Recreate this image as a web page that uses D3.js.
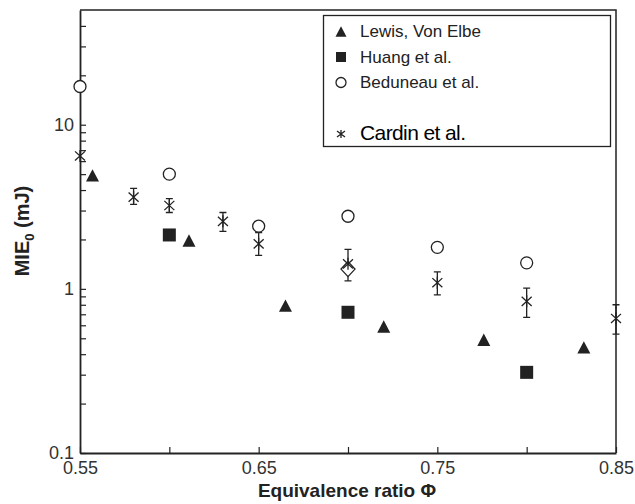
<!DOCTYPE html>
<html>
<head>
<meta charset="utf-8">
<script src="https://cdn.jsdelivr.net/npm/d3@7"></script>
<style>
  body { margin: 0; background: #fff; }
  svg { display: block; font-family: 'Liberation Sans', Arial, sans-serif; }
</style>
</head>
<body>
<div id="chart"></div>
<script>
// Data
const lewisPhi = [0.557, 0.611, 0.665, 0.72, 0.776, 0.832];
const lewisMie = [4.91, 1.97, 0.79, 0.59, 0.49, 0.44];

const huangPhi = [0.60, 0.70, 0.80];
const huangMie = [2.13, 0.72, 0.31];

const beduneauPhi = [0.55, 0.60, 0.65, 0.70, 0.75, 0.80];
const beduneauMie = [17.1, 5.0, 2.41, 2.77, 1.79, 1.44];

const cardinPhi = [0.55, 0.58, 0.60, 0.63, 0.65, 0.70, 0.75, 0.80, 0.85];
const cardinMie = [6.45, 3.62, 3.22, 2.58, 1.88, 1.42, 1.09, 0.84, 0.66];
const cardinLow = [null, 3.27, 2.92, 2.24, 1.60, 1.12, 0.92, 0.67, 0.53];
const cardinHigh = [null, 4.09, 3.55, 2.92, 2.20, 1.74, 1.27, 1.01, 0.80];

// single open diamond, no legend entry
const diamondPhi = [0.70];
const diamondMie = [1.32];

const xTicks = [0.55, 0.60, 0.65, 0.70, 0.75, 0.80, 0.85];
const xTickLabels = ['0.55', '', '0.65', '', '0.75', '', '0.85'];
const yMajor = [0.1, 1, 10];
const yTicks = [0.1, 0.2, 0.3, 0.4, 0.5, 0.6, 0.7, 0.8, 0.9,
  1, 2, 3, 4, 5, 6, 7, 8, 9, 10, 20, 30, 40];

const legendNames = ['Lewis, Von Elbe', 'Huang et al.', 'Beduneau et al.', 'Cardin et al.'];

const width = 635;
const height = 504;
const margin = { top: 10, right: 19, bottom: 51, left: 80 };
const ink = '#222';

const svg = d3.select('#chart').append('svg')
  .attr('width', width)
  .attr('height', height);

const x = d3.scaleLinear()
  .domain([0.55, 0.85])
  .range([margin.left, width - margin.right]);

const y = d3.scaleLog()
  .domain([0.1, 50])
  .range([height - margin.bottom, margin.top]);

// frame (top + right)
svg.append('path')
  .attr('d', `M${x(0.55)},${y(50)}H${x(0.85)}V${y(0.1)}`)
  .attr('fill', 'none')
  .attr('stroke', ink)
  .attr('stroke-width', 1.5);

// axes, ticks pointing inward
const xAxis = d3.axisBottom(x)
  .tickValues(xTicks)
  .tickFormat((d, i) => xTickLabels[i])
  .tickSizeInner(-6)
  .tickSizeOuter(0)
  .tickPadding(8);

const yAxis = d3.axisLeft(y)
  .tickValues(yTicks)
  .tickFormat((d) => (yMajor.indexOf(d) >= 0 ? String(d) : ''))
  .tickSizeInner(-6)
  .tickSizeOuter(0)
  .tickPadding(6);

const gx = svg.append('g')
  .attr('transform', `translate(0,${y(0.1)})`)
  .call(xAxis);

const gy = svg.append('g')
  .attr('transform', `translate(${x(0.55)},0)`)
  .call(yAxis);

[gx, gy].forEach((g) => {
  g.select('.domain').attr('stroke', ink).attr('stroke-width', 1.8);
  g.selectAll('.tick line').attr('stroke', ink).attr('stroke-width', 1.2);
  g.selectAll('.tick text')
    .attr('fill', '#333')
    .style('font-size', '18px')
    .style('font-family', "'Liberation Sans', Arial, sans-serif");
});

// axis titles
svg.append('text')
  .attr('x', 347)
  .attr('y', 497)
  .attr('text-anchor', 'middle')
  .attr('fill', ink)
  .style('font-size', '19px')
  .style('font-weight', 'bold')
  .text('Equivalence ratio Φ');

const yTitle = svg.append('text')
  .attr('transform', 'translate(29,231) rotate(-90)')
  .attr('text-anchor', 'middle')
  .attr('fill', ink)
  .style('font-size', '20px')
  .style('font-weight', 'bold');
yTitle.append('tspan').text('MIE');
yTitle.append('tspan').attr('dy', 5).style('font-size', '13px').text('0');
yTitle.append('tspan').attr('dy', -5).text(' (mJ)');

// marker drawers
function triangle(g, cx, cy, s) {
  const h = s * 0.95;
  g.append('path')
    .attr('d', `M${cx},${cy - h / 2}L${cx + s / 2},${cy + h / 2}L${cx - s / 2},${cy + h / 2}Z`)
    .attr('fill', ink);
}

function square(g, cx, cy, s) {
  g.append('rect')
    .attr('x', cx - s / 2)
    .attr('y', cy - s / 2)
    .attr('width', s)
    .attr('height', s)
    .attr('fill', ink);
}

function circle(g, cx, cy, r) {
  g.append('circle')
    .attr('cx', cx)
    .attr('cy', cy)
    .attr('r', r)
    .attr('fill', '#fff')
    .attr('stroke', ink)
    .attr('stroke-width', 1.3);
}

function asterisk(g, cx, cy, w, h) {
  g.append('path')
    .attr('d', `M${cx},${cy - h / 2}V${cy + h / 2}`
      + `M${cx - w / 2},${cy - h / 2.6}L${cx + w / 2},${cy + h / 2.6}`
      + `M${cx - w / 2},${cy + h / 2.6}L${cx + w / 2},${cy - h / 2.6}`)
    .attr('fill', 'none')
    .attr('stroke', ink)
    .attr('stroke-width', 1.3);
}

function diamond(g, cx, cy, w, h) {
  g.append('path')
    .attr('d', `M${cx},${cy - h / 2}L${cx + w / 2},${cy}L${cx},${cy + h / 2}L${cx - w / 2},${cy}Z`)
    .attr('fill', '#fff')
    .attr('stroke', ink)
    .attr('stroke-width', 1.3);
}

const plot = svg.append('g');

// Cardin error bars
cardinPhi.forEach((p, i) => {
  if (cardinLow[i] === null) return;
  const cx = x(p);
  const y0 = y(cardinLow[i]);
  const y1 = y(cardinHigh[i]);
  plot.append('path')
    .attr('d', `M${cx},${y0}V${y1}M${cx - 3.5},${y0}H${cx + 3.5}M${cx - 3.5},${y1}H${cx + 3.5}`)
    .attr('fill', 'none')
    .attr('stroke', ink)
    .attr('stroke-width', 1.3);
});

diamondPhi.forEach((p, i) => diamond(plot, x(p), y(diamondMie[i]), 14, 15));
beduneauPhi.forEach((p, i) => circle(plot, x(p), y(beduneauMie[i]), 6));
cardinPhi.forEach((p, i) => asterisk(plot, x(p), y(cardinMie[i]), 10, 12));
lewisPhi.forEach((p, i) => triangle(plot, x(p), y(lewisMie[i]), 13));
huangPhi.forEach((p, i) => square(plot, x(p), y(huangMie[i]), 13));

// legend
const legend = svg.append('g');
legend.append('rect')
  .attr('x', 323.5)
  .attr('y', 15.5)
  .attr('width', 287)
  .attr('height', 131)
  .attr('fill', '#fff')
  .attr('stroke', ink)
  .attr('stroke-width', 1.3);

const legendRows = [31.5, 57, 82.5, 134];
const legendBase = [37, 62.5, 88, 140];
const lx = 341;

triangle(legend, lx, legendRows[0], 11);
square(legend, lx, legendRows[1], 10);
circle(legend, lx, legendRows[2], 5);
asterisk(legend, lx, legendRows[3], 8, 8);

legendNames.forEach((name, i) => {
  const last = i === legendNames.length - 1;
  legend.append('text')
    .attr('x', 360)
    .attr('y', legendBase[i])
    .attr('fill', last ? '#000' : '#222')
    .style('font-size', last ? '21px' : '17px')
    .style('letter-spacing', last ? '-0.6px' : '0px')
    .text(name);
});
</script>
</body>
</html>
